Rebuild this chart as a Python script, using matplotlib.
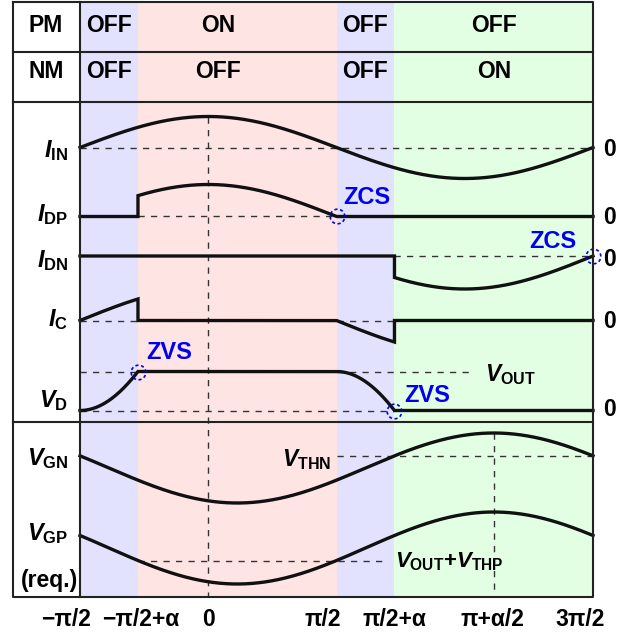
import numpy as np
import matplotlib
matplotlib.use("Agg")
import matplotlib.pyplot as plt
from matplotlib.path import Path
from matplotlib.transforms import ScaledTranslation

plt.rcParams.update({
    "font.family": ["Liberation Sans", "DejaVu Sans"],
    "font.weight": "bold",
    "mathtext.fontset": "custom",
    "mathtext.rm": "Liberation Sans",
    "mathtext.it": "Liberation Sans:italic:bold",
    "mathtext.bf": "Liberation Sans:bold",
})

# ---------------------------------------------------------------- data
PI = np.pi
ALPHA = 0.71                      # dead-time angle α (rad)
phase_edges = [-PI / 2, -PI / 2 + ALPHA, PI / 2, PI / 2 + ALPHA, 3 * PI / 2]
phase_colors = ["#e2e2ff", "#ffe4e4", "#e2e2ff", "#e3ffe3"]
pm_states = ["OFF", "ON", "OFF", "OFF"]
nm_states = ["OFF", "OFF", "OFF", "ON"]
tick_values = [-PI / 2, -PI / 2 + ALPHA, 0, PI / 2, PI / 2 + ALPHA, PI + ALPHA / 2, 3 * PI / 2]
tick_labels = ["−π/2", "−π/2+α", "0", "π/2", "π/2+α", "π+α/2", "3π/2"]

I_PEAK = 1.0                      # normalised inductor current amplitude
V_OUT = 1.0                       # normalised output voltage
VG_AMP = 1.0                      # normalised gate swing

# ------------------------------------------------------------ waveforms
def segment(k, n=240):
    return np.linspace(phase_edges[k], phase_edges[k + 1], n)

def i_in(t):
    return I_PEAK * np.cos(t)

def v_g(t):
    return -VG_AMP * np.cos(t - ALPHA / 2)

one_minus_cos = 1 - np.cos(ALPHA)
segs = [segment(k) for k in range(4)]

def build(funcs):
    xs, ys = [], []
    for t, f in zip(segs, funcs):
        xs.append(t)
        ys.append(f(t))
    return np.concatenate(xs), np.concatenate(ys)

zero = lambda t: np.zeros_like(t)
full = lambda t: np.full_like(t, V_OUT)
t_in, y_in = build([i_in] * 4)
t_dp, y_dp = build([zero, i_in, zero, zero])
t_dn, y_dn = build([zero, zero, zero, i_in])
t_c, y_c = build([i_in, zero, i_in, zero])
t_vd, y_vd = build([
    lambda t: V_OUT * (1 + np.sin(t)) / one_minus_cos,
    full,
    lambda t: V_OUT * (1 - (1 - np.sin(t)) / one_minus_cos),
    zero,
])
t_g = np.linspace(-PI / 2, 3 * PI / 2, 800)
y_gn = v_g(t_g)
y_gp = v_g(t_g)
V_THN = v_g(PI / 2 + ALPHA)
V_OUT_THP = v_g(-PI / 2 + ALPHA)

# --------------------------------------------------------------- figure
W, H = 627, 632
fig = plt.figure(figsize=(W / 100, H / 100), dpi=100)

X0, X1 = 80, 593          # plot area, pixels
Y0, Y1 = 2, 597
LW = 2.4
DLW = 1.0
DASH = (4.5, 4.5)
INK = "#111111"
GRID = "#333333"
BLUE = "#0000ee"
FS = 16.5

def area_axes(zero_px=None, unit_px=None):
    ax = fig.add_axes([X0 / W, 1 - Y1 / H, (X1 - X0) / W, (Y1 - Y0) / H])
    ax.set_xlim(-PI / 2, 3 * PI / 2)
    if zero_px is not None:
        ax.set_ylim((zero_px - Y1) / unit_px, (zero_px - Y0) / unit_px)
    ax.axis("off")
    ax.patch.set_alpha(0)
    return ax

bg = area_axes()
bg.set_ylim(0, 1)
for k, c in enumerate(phase_colors):
    bg.axvspan(phase_edges[k], phase_edges[k + 1], color=c, lw=0)

rows = {
    "in": area_axes(147.5, 31),
    "dp": area_axes(216.5, 32),
    "dn": area_axes(256.0, 33),
    "c": area_axes(320.5, 33),
    "vd": area_axes(410.5, 39),
    "gn": area_axes(468.0, 35),
    "gp": area_axes(548.0, 36),
}

def dashed(ax, x, y):
    ax.plot(x, y, color=GRID, lw=DLW, dashes=DASH, solid_capstyle="butt")

def solid(ax, x, y):
    ax.plot(x, y, color=INK, lw=LW, solid_joinstyle="miter", clip_on=False)

# I_IN
ax = rows["in"]
dashed(ax, [-PI / 2, 3 * PI / 2], [0, 0])
dashed(ax, [0, 0], [I_PEAK, ax.get_ylim()[0]])
solid(ax, t_in, y_in)

# I_DP
ax = rows["dp"]
dashed(ax, [phase_edges[1], phase_edges[2]], [0, 0])
solid(ax, t_dp, y_dp)

# I_DN
ax = rows["dn"]
dashed(ax, [phase_edges[3], phase_edges[4]], [0, 0])
solid(ax, t_dn, y_dn)

# I_C
ax = rows["c"]
dashed(ax, [phase_edges[0], phase_edges[1]], [0, 0])
dashed(ax, [phase_edges[2], phase_edges[3]], [0, 0])
solid(ax, t_c, y_c)

# V_D
ax = rows["vd"]
dashed(ax, [phase_edges[0], phase_edges[3]], [0, 0])
dashed(ax, [phase_edges[0], phase_edges[1]], [V_OUT, V_OUT])
dashed(ax, [phase_edges[2], PI + 0.06], [V_OUT, V_OUT])
solid(ax, t_vd, y_vd)

# V_GN
ax = rows["gn"]
dashed(ax, [PI / 2, 3 * PI / 2], [V_THN, V_THN])
dashed(ax, [PI + ALPHA / 2] * 2, [VG_AMP, ax.get_ylim()[0]])
solid(ax, t_g, y_gn)

# V_GP
ax = rows["gp"]
dashed(ax, [phase_edges[1], PI / 2 + ALPHA - 0.15], [V_OUT_THP, V_OUT_THP])
solid(ax, t_g, y_gp)

# ZCS / ZVS rings
def ring_path(n=8, frac=0.55):
    verts, codes = [], []
    for k in range(n):
        a0 = 2 * PI * k / n
        a = np.linspace(a0, a0 + 2 * PI / n * frac, 6)
        verts.extend(np.column_stack([np.cos(a), np.sin(a)]))
        codes.extend([Path.MOVETO] + [Path.LINETO] * 5)
    return Path(verts, codes)

RING = ring_path()
marks = [
    (rows["dp"], PI / 2, 0.0, "ZCS", (7, 19), "left"),
    (rows["dn"], 3 * PI / 2, 0.0, "ZCS", (-17, 15), "right"),
    (rows["vd"], -PI / 2 + ALPHA, V_OUT, "ZVS", (8, 19), "left"),
    (rows["vd"], PI / 2 + ALPHA, 0.0, "ZVS", (10, 15), "left"),
]
for ax, x, y, txt, off, ha in marks:
    ax.plot([x], [y], marker=RING, ms=10.5, mew=1.2, mec=BLUE, mfc="none",
            ls="none", clip_on=False, zorder=5)
    ax.annotate(txt, (x, y), xytext=off, textcoords="offset pixels",
                ha=ha, va="center", color=BLUE, fontsize=17, fontweight="bold")

# x tick labels along the bottom of the plot area
bg.set_xticks(tick_values)
bg.set_xticklabels(tick_labels, fontsize=FS, fontweight="bold")
bg.tick_params(axis="x", length=0, pad=8)
bg.axis("on")
for s in bg.spines.values():
    s.set_visible(False)
bg.set_yticks([])
shifts = [-14, 3, 0, -14, 0, -1, -13]
for lab, dx in zip(bg.get_xticklabels(), shifts):
    lab.set_transform(lab.get_transform() + ScaledTranslation(dx / 100, 0, fig.dpi_scale_trans))

# --------------------------------------------------- frame and labels
ov = fig.add_axes([0, 0, 1, 1])
ov.set_xlim(0, W)
ov.set_ylim(H, 0)
ov.axis("off")
ov.patch.set_alpha(0)
FR = dict(color="#222222", lw=1.5, solid_capstyle="projecting")
ov.plot([13, X1, X1, 13, 13], [Y0, Y0, Y1, Y1, Y0], **FR)
ov.plot([X0, X0], [Y0, Y1], **FR)
for yy in (52, 102, 422):
    ov.plot([13, X1], [yy, yy], **FR)

def to_px(x):
    return X0 + (x + PI / 2) / (2 * PI) * (X1 - X0)

state_x = [to_px(-PI / 2 + ALPHA / 2), 218, to_px(PI / 2 + ALPHA / 2),
           to_px((phase_edges[3] + phase_edges[4]) / 2)]
for sx, p, n in zip(state_x, pm_states, nm_states):
    ov.text(sx, 25, p, ha="center", va="center", fontsize=FS, fontweight="bold")
    ov.text(sx, 72, n, ha="center", va="center", fontsize=FS, fontweight="bold")
ov.text(46, 25, "PM", ha="center", va="center", fontsize=FS, fontweight="bold")
ov.text(46, 72, "NM", ha="center", va="center", fontsize=FS, fontweight="bold")

row_labels = [
    (r"$\mathit{I}_{\mathrm{IN}}$", 151),
    (r"$\mathit{I}_{\mathrm{DP}}$", 215),
    (r"$\mathit{I}_{\mathrm{DN}}$", 261),
    (r"$\mathit{I}_{\mathrm{C}}$", 320),
    (r"$\mathit{V}_{\mathrm{D}}$", 401),
    (r"$\mathit{V}_{\mathrm{GN}}$", 459),
    (r"$\mathit{V}_{\mathrm{GP}}$", 534),
]
for s, yy in row_labels:
    ov.text(68, yy, s, ha="right", va="center", fontsize=17)
ov.text(50, 580, "(req.)", ha="center", va="center", fontsize=FS, fontweight="bold")

for yy in (150, 217, 259, 322, 410):
    ov.text(609, yy, "0", ha="center", va="center", fontsize=FS, fontweight="bold")

ov.text(485, 375, r"$\mathit{V}_{\mathrm{OUT}}$", ha="left", va="center", fontsize=16.5)
ov.text(282, 460, r"$\mathit{V}_{\mathrm{THN}}$", ha="left", va="center", fontsize=16.5)
ov.text(395, 562, r"$\mathit{V}_{\mathrm{OUT}}$+$\mathit{V}_{\mathrm{THP}}$",
        ha="left", va="center", fontsize=16)

fig.savefig("out.png", dpi=100)
